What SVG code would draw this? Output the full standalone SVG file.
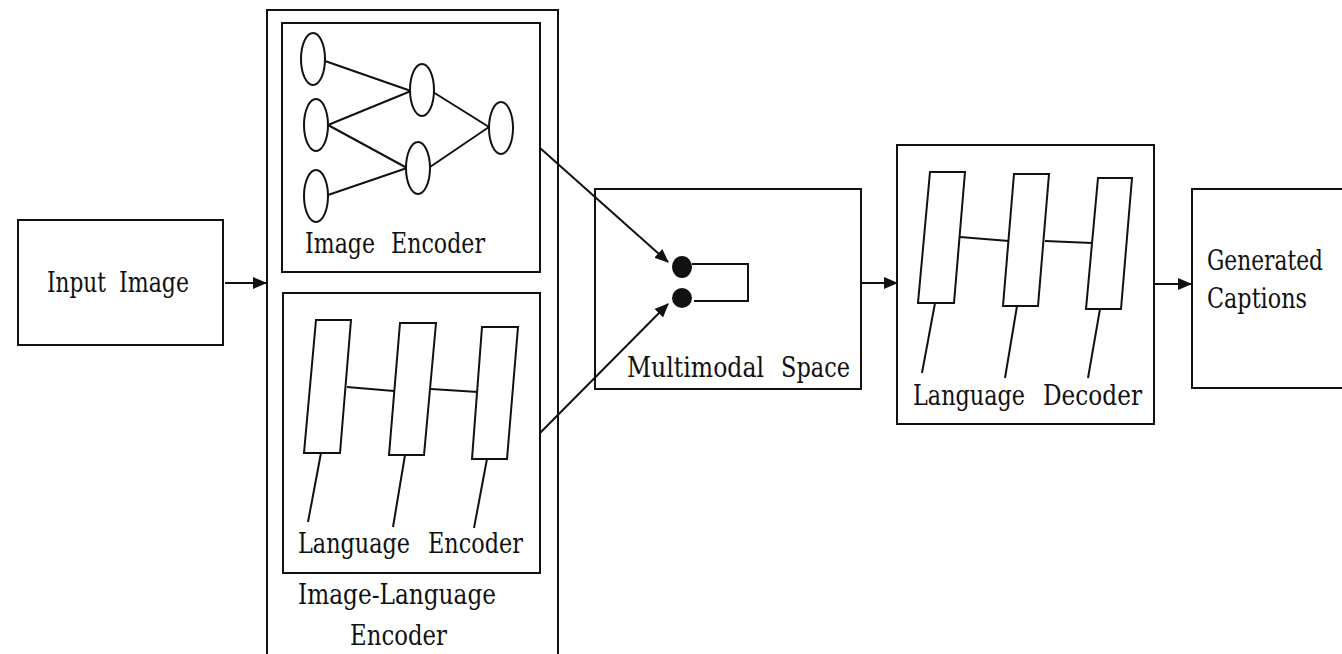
<svg xmlns="http://www.w3.org/2000/svg" width="1342" height="654" viewBox="0 0 1342 654">
<defs>
<style>
.box{fill:none;stroke:#111;stroke-width:2}
.ln{fill:none;stroke:#111;stroke-width:2}
.cell{fill:#fff;stroke:#111;stroke-width:2}
.conn{fill:none;stroke:#111;stroke-width:2}
.t{font-family:'DejaVu Serif','Liberation Serif',serif;font-size:27px;fill:#111}
</style>
<marker id="arr" viewBox="0 0 14 12" refX="13" refY="6" markerWidth="14" markerHeight="12" markerUnits="userSpaceOnUse" orient="auto">
<path d="M0,0 L14,6 L0,12 Z" fill="#111"/>
</marker>
</defs>
<rect width="1342" height="654" fill="#fff"/>

<g id="input-image">
<rect class="box" x="18" y="220" width="205" height="125"/>
<text class="t" y="292"><tspan x="47" textLength="59" lengthAdjust="spacingAndGlyphs">Input</tspan><tspan x="119" textLength="70" lengthAdjust="spacingAndGlyphs">Image</tspan></text>
</g>

<g id="image-language-encoder">
<rect class="box" x="267" y="10" width="291" height="660"/>
<text class="t" y="604" x="298" textLength="198" lengthAdjust="spacingAndGlyphs">Image-Language</text>
<text class="t" y="645" x="350" textLength="97" lengthAdjust="spacingAndGlyphs">Encoder</text>
</g>

<g id="image-encoder">
<rect class="box" x="282" y="23" width="258" height="249"/>
<g class="ln">
<line x1="325" y1="61" x2="411" y2="91"/>
<line x1="328" y1="125" x2="411" y2="91"/>
<line x1="328" y1="125" x2="407" y2="168"/>
<line x1="328" y1="195" x2="407" y2="168"/>
<line x1="433" y1="92" x2="489" y2="127"/>
<line x1="430" y1="167" x2="489" y2="127"/>
</g>
<ellipse class="cell" cx="313" cy="59" rx="12" ry="26"/>
<ellipse class="cell" cx="316" cy="125" rx="12" ry="26"/>
<ellipse class="cell" cx="316" cy="196" rx="12" ry="26"/>
<ellipse class="cell" cx="422" cy="90" rx="12" ry="26"/>
<ellipse class="cell" cx="418" cy="168" rx="12" ry="26"/>
<ellipse class="cell" cx="501" cy="128" rx="12" ry="26"/>
<text class="t" y="253"><tspan x="305" textLength="70" lengthAdjust="spacingAndGlyphs">Image</tspan><tspan x="391" textLength="94" lengthAdjust="spacingAndGlyphs">Encoder</tspan></text>
</g>

<g id="language-encoder">
<rect class="box" x="283" y="293" width="257" height="280"/>
<g class="ln">
<line x1="347" y1="387" x2="394" y2="391"/>
<line x1="431" y1="389" x2="478" y2="392"/>
<line x1="321" y1="453" x2="308" y2="522"/>
<line x1="405" y1="455" x2="393" y2="527"/>
<line x1="487" y1="459" x2="474" y2="528"/>
</g>
<polygon class="cell" points="316,320 351,320 340,453 304,453"/>
<polygon class="cell" points="400,323 436,323 424,455 389,455"/>
<polygon class="cell" points="482,327 518,327 507,459 472,459"/>
<text class="t" y="553"><tspan x="298" textLength="112" lengthAdjust="spacingAndGlyphs">Language</tspan><tspan x="428" textLength="95" lengthAdjust="spacingAndGlyphs">Encoder</tspan></text>
</g>

<g id="multimodal-space">
<rect class="box" x="595" y="189" width="266" height="200"/>
<ellipse cx="682" cy="267" rx="10" ry="11" fill="#111"/>
<ellipse cx="682" cy="298" rx="10" ry="10" fill="#111"/>
<polyline class="ln" points="692,264 748,264 748,301 694,301"/>
<text class="t" y="377"><tspan x="627" textLength="137" lengthAdjust="spacingAndGlyphs">Multimodal</tspan><tspan x="781" textLength="69" lengthAdjust="spacingAndGlyphs">Space</tspan></text>
</g>

<g id="language-decoder">
<rect class="box" x="897" y="145" width="257" height="279"/>
<g class="ln">
<line x1="960" y1="237" x2="1009" y2="241"/>
<line x1="1045" y1="241" x2="1092" y2="243"/>
<line x1="935" y1="303" x2="922" y2="373"/>
<line x1="1017" y1="306" x2="1005" y2="378"/>
<line x1="1100" y1="309" x2="1088" y2="378"/>
</g>
<polygon class="cell" points="930,172 965,172 954,303 918,303"/>
<polygon class="cell" points="1014,174 1049,174 1038,306 1003,306"/>
<polygon class="cell" points="1098,178 1132,178 1121,309 1086,309"/>
<text class="t" y="405"><tspan x="913" textLength="112" lengthAdjust="spacingAndGlyphs">Language</tspan><tspan x="1043" textLength="99" lengthAdjust="spacingAndGlyphs">Decoder</tspan></text>
</g>

<g id="generated-captions">
<rect class="box" x="1192" y="189" width="170" height="199"/>
<text class="t" x="1207" y="270" textLength="116" lengthAdjust="spacingAndGlyphs">Generated</text>
<text class="t" x="1207" y="308" textLength="100" lengthAdjust="spacingAndGlyphs">Captions</text>
</g>

<g id="connectors">
<line class="conn" x1="225" y1="283" x2="266" y2="283" marker-end="url(#arr)"/>
<line class="conn" x1="540" y1="148" x2="668" y2="262" marker-end="url(#arr)"/>
<line class="conn" x1="540" y1="433" x2="668" y2="304" marker-end="url(#arr)"/>
<line class="conn" x1="862" y1="283" x2="897" y2="283" marker-end="url(#arr)"/>
<line class="conn" x1="1155" y1="284" x2="1191" y2="284" marker-end="url(#arr)"/>
</g>
</svg>
